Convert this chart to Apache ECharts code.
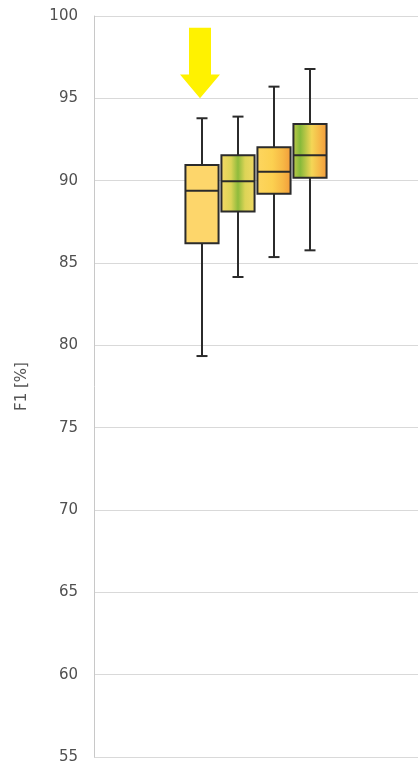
<!DOCTYPE html>
<html>
<head>
<meta charset="utf-8">
<script src="https://cdn.jsdelivr.net/npm/echarts@6/dist/echarts.min.js"></script>
<style>
html,body{margin:0;padding:0;background:#fff;}
#chart{width:418px;height:765px;}
</style>
</head>
<body>
<div id="chart"></div>
<script>
// Category slots along the x axis (boxes occupy slots 3..6)
const categories = ['0','1','2','3','4','5','6','7','8','9'];
const boxSlots = [3, 4, 5, 6];
// [low, q1, median, q3, high]
const lowValues    = [79.35, 84.15, 85.36, 85.77];
const q1Values     = [86.20, 88.12, 89.21, 90.18];
const medianValues = [89.39, 89.96, 90.54, 91.54];
const q3Values     = [90.95, 91.54, 92.03, 93.44];
const highValues   = [93.79, 93.89, 95.71, 96.78];
const yTicks = { min: 55, max: 100, interval: 5 };
const axisName = 'F1 [%]';
// Arrow annotation (value coords): tip, head base, top
const arrowSlot = 3;
const arrowTip = 95.0, arrowHeadBase = 96.45, arrowTopValue = 99.28;

// gradient fills per box (left -> right)
const boxGradients = [
  [[0,'#fdd66b'],[1,'#fdd66b']],
  [[0,'#f5da66'],[0.3,'#dcd456'],[0.5,'#8fbb3c'],[0.7,'#dcd456'],[1,'#f2d964']],
  [[0,'#fdd660'],[0.45,'#fcd050'],[0.75,'#f7b845'],[1,'#f29a3a']],
  [[0,'#c4cb4c'],[0.22,'#86b93a'],[0.55,'#f4d656'],[0.8,'#f6b446'],[1,'#f19a3c']]
];

const boxData = boxSlots.map((s, i) => [s, lowValues[i], q1Values[i], medianValues[i], q3Values[i], highValues[i]]);

const chart = echarts.init(document.getElementById('chart'));
const strokeColor = '#2b2b2b';

function renderItem(params, api) {
  const x = api.value(0);
  const pLow = api.coord([x, api.value(1)]);
  const pQ1 = api.coord([x, api.value(2)]);
  const pMed = api.coord([x, api.value(3)]);
  const pQ3 = api.coord([x, api.value(4)]);
  const pHigh = api.coord([x, api.value(5)]);
  const bw = api.size([1, 0])[0] * 0.92;
  const cx = pMed[0];
  const cap = 5.5;
  const g = boxGradients[params.dataIndex];
  const lineStyle = { stroke: strokeColor, lineWidth: 2 };
  return {
    type: 'group',
    children: [
      { type: 'line', shape: { x1: cx, y1: pHigh[1], x2: cx, y2: pQ3[1] }, style: lineStyle },
      { type: 'line', shape: { x1: cx, y1: pQ1[1], x2: cx, y2: pLow[1] }, style: lineStyle },
      { type: 'line', shape: { x1: cx - cap, y1: pHigh[1], x2: cx + cap, y2: pHigh[1] }, style: lineStyle },
      { type: 'line', shape: { x1: cx - cap, y1: pLow[1], x2: cx + cap, y2: pLow[1] }, style: lineStyle },
      { type: 'rect', shape: { x: cx - bw / 2, y: pQ3[1], width: bw, height: pQ1[1] - pQ3[1] },
        style: { fill: new echarts.graphic.LinearGradient(0, 0, 1, 0, g.map(s => ({ offset: s[0], color: s[1] }))), stroke: strokeColor, lineWidth: 2 } },
      { type: 'line', shape: { x1: cx - bw / 2, y1: pMed[1], x2: cx + bw / 2, y2: pMed[1] }, style: lineStyle }
    ]
  };
}

chart.setOption({
  animation: false,
  backgroundColor: '#fff',
  grid: { left: 94, right: 0, top: 16, bottom: 8, containLabel: false },
  xAxis: { type: 'category', data: categories, boundaryGap: false, show: false },
  yAxis: {
    type: 'value', min: yTicks.min, max: yTicks.max, interval: yTicks.interval,
    name: axisName, nameLocation: 'middle', nameGap: 64, nameRotate: 90,
    nameTextStyle: { fontFamily: 'DejaVu Sans', fontSize: 15, color: '#555' },
    axisLine: { show: true, lineStyle: { color: '#c8c8c8', width: 1 } },
    axisTick: { show: false },
    axisLabel: { fontFamily: 'DejaVu Sans', fontSize: 15, color: '#505050', margin: 16 },
    splitLine: { lineStyle: { color: '#d9d9d9', width: 1 } }
  },
  series: [{
    type: 'custom',
    renderItem: renderItem,
    data: boxData,
    encode: { x: 0, y: [1, 2, 3, 4, 5] },
    z: 3
  }]
});

// Arrow annotation positioned via axes
const pTip = chart.convertToPixel({ gridIndex: 0 }, [arrowSlot, arrowTip]);
const pBase = chart.convertToPixel({ gridIndex: 0 }, [arrowSlot, arrowHeadBase]);
const pTop = chart.convertToPixel({ gridIndex: 0 }, [arrowSlot, arrowTopValue]);
const ax = pTip[0] - 2;
chart.setOption({
  graphic: [{
    type: 'polygon', z: 10,
    shape: { points: [
      [ax - 11, pTop[1]], [ax + 11, pTop[1]], [ax + 11, pBase[1]], [ax + 20, pBase[1]],
      [ax, pTip[1]], [ax - 20, pBase[1]], [ax - 11, pBase[1]]
    ] },
    style: { fill: '#fff200' }
  }]
});
</script>
</body>
</html>
